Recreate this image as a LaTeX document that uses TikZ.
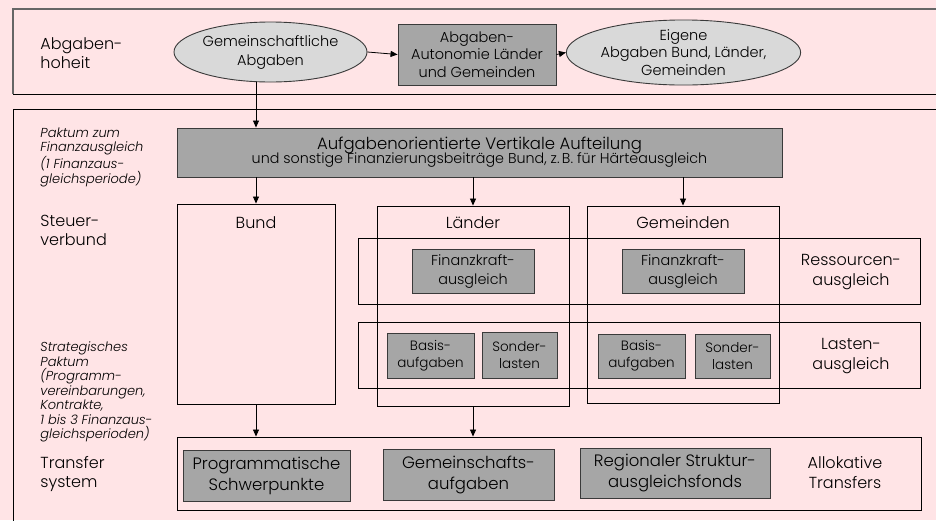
\documentclass[tikz,border=0pt]{standalone}
\usepackage{fontspec}
\setmainfont{Poppins}[UprightFont={* Light}, ItalicFont={* Light Italic}]
\usetikzlibrary{shapes.geometric,arrows.meta}
\definecolor{bgpink}{HTML}{FFE4E6}
\definecolor{boxgray}{HTML}{A6A6A6}
\definecolor{ellgray}{HTML}{D9D9D9}
\definecolor{edgegray}{HTML}{3A3A3A}
\newcommand{\fsz}[2]{\fontsize{#1}{#2}\selectfont}
\begin{document}
\begin{tikzpicture}[x=1pt,y=-1pt,
  line width=0.9pt,
  frame/.style={draw=black, rectangle, inner sep=0pt},
  graybox/.style={draw=edgegray, fill=boxgray, rectangle, inner sep=0pt, align=center, text=black},
  ell/.style={draw=edgegray, fill=ellgray, ellipse, inner sep=0pt, align=center, text=black},
  lbl/.style={align=center, inner sep=0pt, text=black, font=\fsz{16}{20}},
  side/.style={align=left, inner sep=0pt, anchor=west, text=black, font=\fsz{16}{19}},
  sideit/.style={align=left, inner sep=0pt, anchor=west, text=black, font=\fsz{13}{14.5}\itshape},
  arr/.style={-{Triangle[length=7pt,width=6pt]}, line width=0.8pt, draw=black}
]
\fill[bgpink] (0,0) rectangle (936,520);
\useasboundingbox (0,0) rectangle (936,520);

% outer frames
\draw[draw=black!60, line width=1.2pt] (13,94) -- (13,9) -- (940,9);
\draw[draw=black] (13,94) -- (940,94);
\draw[draw=black] (13,525) -- (13,109) -- (940,109);

% top row
\node[side] (abg) at (40,53) {Abgaben-\\hoheit};
\node[ell, minimum width=193pt, minimum height=60pt, font=\fsz{14.5}{19}] (gem) at (270.5,52) {Gemeinschaftliche\\Abgaben};
\node[graybox, minimum width=158pt, minimum height=61pt, font=\fsz{14.5}{17.5}] (auto) at (477,54.5) {Abgaben-\\Autonomie Länder\\und Gemeinden};
\node[ell, minimum width=195pt, minimum height=61pt, font=\fsz{14.5}{17.5}] (eig) at (683.5,52.5) {Eigene\\Abgaben Bund, Länder,\\Gemeinden};

% vertical split
\node[graybox, minimum width=605pt, minimum height=49pt] (vert) at (479.5,152.5) {{\fsz{16.5}{20}Aufgabenorientierte Vertikale Aufteilung}\\[-2pt]{\fsz{14.3}{17}und sonstige Finanzierungsbeiträge Bund, z.\,B. für Härteausgleich}};

% left labels
\node[sideit] (pak) at (40,157.5) {Paktum zum\\Finanzausgleich\\(1 Finanzaus-\\gleichsperiode)};
\node[side] (stv) at (40,230) {Steuer-\\verbund};
\node[sideit] (strat) at (40,392) {Strategisches\\Paktum\\(Programm-\\vereinbarungen,\\Kontrakte,\\1 bis 3 Finanzaus-\\gleichsperioden)};
\node[side] (trs) at (40,474) {Transfer\\system};

% columns
\node[frame, minimum width=158pt, minimum height=200pt] (bund) at (256,304) {};
\node[frame, minimum width=192pt, minimum height=200pt] (laender) at (473,306) {};
\node[frame, minimum width=192pt, minimum height=197pt] (gemeinden) at (683,304.5) {};
\node[lbl] (tbund) at (256,223) {Bund};
\node[lbl] (tlaender) at (473,223) {Länder};
\node[lbl] (tgemeinden) at (683,223) {Gemeinden};

% bands
\node[frame, minimum width=562pt, minimum height=66pt] (ress) at (639,271) {};
\node[frame, minimum width=562pt, minimum height=66pt] (last) at (639,355) {};
\node[lbl] (tress) at (851,272) {Ressourcen-\\ausgleich};
\node[lbl] (tlast) at (851,356) {Lasten-\\ausgleich};

\node[graybox, minimum width=122pt, minimum height=44pt, font=\fsz{14.4}{19}] (fk1) at (473,271) {Finanzkraft-\\ausgleich};
\node[graybox, minimum width=122pt, minimum height=44pt, font=\fsz{14.4}{19}] (fk2) at (683,271) {Finanzkraft-\\ausgleich};

\node[graybox, minimum width=87pt, minimum height=45pt, font=\fsz{13.5}{17}] (bas1) at (430.5,355.5) {Basis-\\aufgaben};
\node[graybox, minimum width=75pt, minimum height=46pt, font=\fsz{13.5}{17}] (son1) at (519.5,355) {Sonder-\\lasten};
\node[graybox, minimum width=87pt, minimum height=44pt, font=\fsz{13.5}{17}] (bas2) at (641.5,356) {Basis-\\aufgaben};
\node[graybox, minimum width=75pt, minimum height=44pt, font=\fsz{13.5}{17}] (son2) at (732.5,356) {Sonder-\\lasten};

% transfer band
\node[frame, minimum width=744pt, minimum height=73pt] (transfer) at (549,473.5) {};
\node[graybox, minimum width=167pt, minimum height=51pt, font=\fsz{16.5}{21}] (prog) at (266.5,475.5) {Programmatische\\Schwerpunkte};
\node[graybox, minimum width=171pt, minimum height=51pt, font=\fsz{16.5}{21}] (gema) at (468.5,474.5) {Gemeinschafts-\\aufgaben};
\node[graybox, minimum width=190pt, minimum height=50pt, font=\fsz{16.5}{21}] (regio) at (675,473) {Regionaler Struktur-\\ausgleichsfonds};
\node[lbl] (tallo) at (845,473) {Allokative\\Transfers};

% connectors
\draw[arr] (gem.south -| bund.north) -- (vert.north -| bund.north);
\draw[arr] (gem.east) -- (auto.west);
\draw[arr] (auto.east) -- (eig.west);
\draw[arr] (vert.south -| bund.north) -- (bund.north);
\draw[arr] (vert.south -| laender.north) -- (laender.north);
\draw[arr] (vert.south -| gemeinden.north) -- (gemeinden.north);
\draw[arr] (bund.south) -- (transfer.north -| bund.south);
\draw[arr] (laender.south) -- (transfer.north -| laender.south);
\end{tikzpicture}
\end{document}
